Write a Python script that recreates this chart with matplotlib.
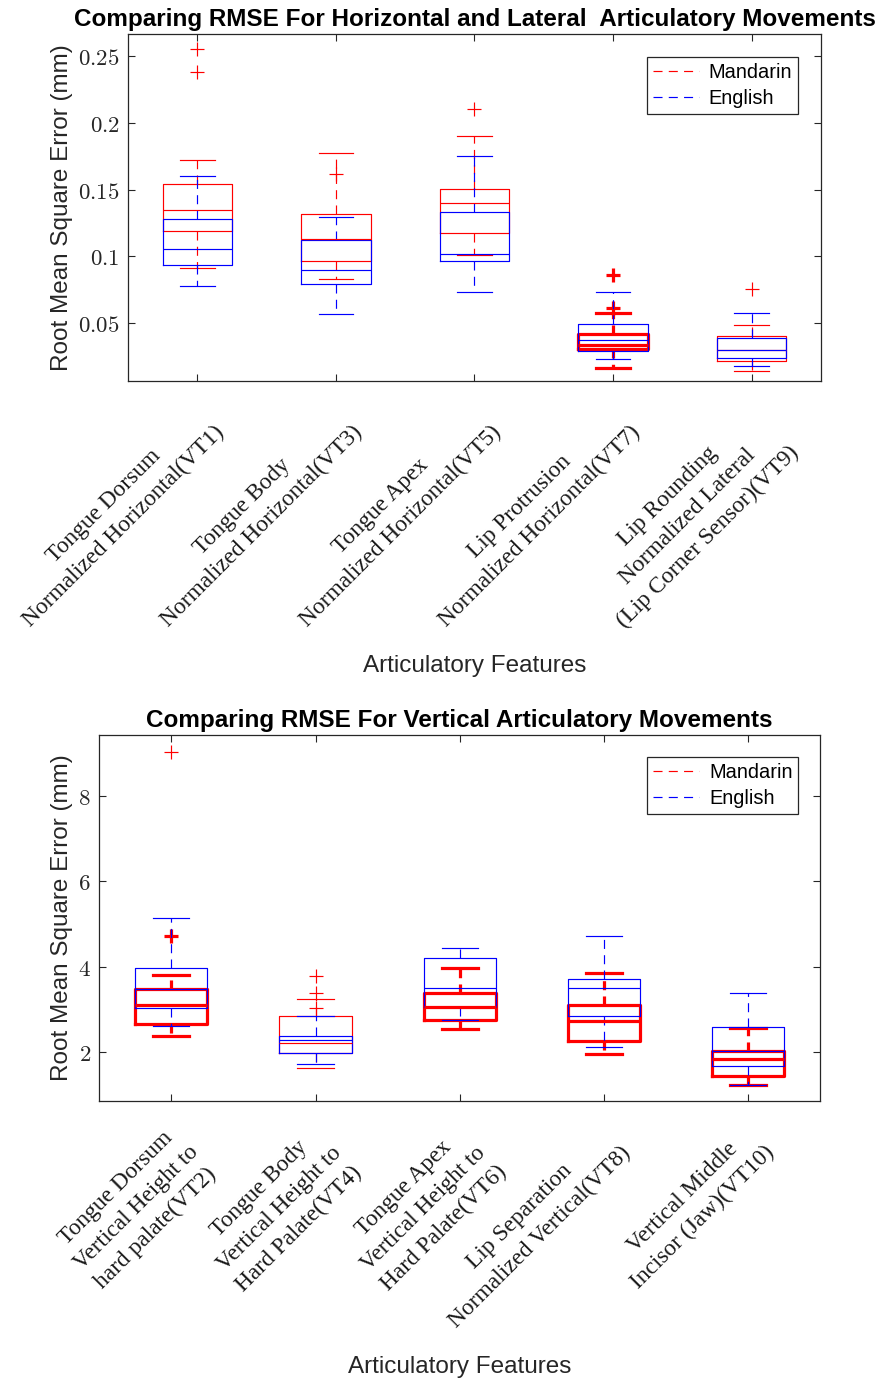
import matplotlib
matplotlib.use("Agg")
import matplotlib.pyplot as plt
from matplotlib.lines import Line2D
from matplotlib.ticker import FuncFormatter
from matplotlib.transforms import ScaledTranslation

plt.rcParams['lines.scale_dashes'] = False
plt.rcParams['mathtext.fontset'] = 'cm'

# ---------------- horizontal / lateral movements ----------------
categories_h = [
    "Tongue Dorsum\nNormalized Horizontal(VT1)",
    "Tongue Body\nNormalized Horizontal(VT3)",
    "Tongue Apex\nNormalized Horizontal(VT5)",
    "Lip Protrusion\nNormalized Horizontal(VT7)",
    "Lip Rounding\nNormalized Lateral\n(Lip Corner Sensor)(VT9)",
]
mand_h_q1 = [0.1193, 0.0966, 0.1176, 0.0308, 0.0218]
mand_h_med = [0.1350, 0.1128, 0.1400, 0.0338, 0.0298]
mand_h_q3 = [0.1540, 0.1318, 0.1505, 0.0418, 0.0405]
mand_h_lo = [0.0912, 0.0834, 0.1014, 0.0168, 0.0143]
mand_h_hi = [0.1720, 0.1777, 0.1901, 0.0580, 0.0490]
mand_h_out = [[0.2550, 0.2378], [0.1620], [0.2101], [0.0862, 0.0612], [0.0757]]

eng_h_q1 = [0.0936, 0.0792, 0.0969, 0.0296, 0.0238]
eng_h_med = [0.1056, 0.0902, 0.1017, 0.0375, 0.0302]
eng_h_q3 = [0.1280, 0.1120, 0.1331, 0.0495, 0.0388]
eng_h_lo = [0.0777, 0.0568, 0.0732, 0.0233, 0.0183]
eng_h_hi = [0.1605, 0.1293, 0.1750, 0.0737, 0.0580]
eng_h_out = [[], [], [], [], []]

# ---------------- vertical movements ----------------
categories_v = [
    "Tongue Dorsum\nVertical Height to\nhard palate(VT2)",
    "Tongue Body\nVertical Height to\nHard Palate(VT4)",
    "Tongue Apex\nVertical Height to\nHard Palate(VT6)",
    "Lip Separation\nNormalized Vertical(VT8)",
    "Vertical Middle\nIncisor (Jaw)(VT10)",
]
mand_v_q1 = [2.655, 1.99, 2.76, 2.27, 1.45]
mand_v_med = [3.11, 2.21, 3.07, 2.72, 1.84]
mand_v_q3 = [3.47, 2.86, 3.38, 3.11, 2.02]
mand_v_lo = [2.37, 1.63, 2.55, 1.95, 1.23]
mand_v_hi = [3.81, 3.25, 3.97, 3.86, 2.57]
mand_v_out = [[9.02, 4.73], [3.78, 3.38, 3.04], [], [], []]

eng_v_q1 = [3.03, 1.99, 3.07, 2.85, 1.68]
eng_v_med = [3.47, 2.29, 3.51, 3.50, 2.02]
eng_v_q3 = [3.98, 2.39, 4.21, 3.71, 2.60]
eng_v_lo = [2.61, 1.72, 2.75, 2.12, 1.23]
eng_v_hi = [5.13, 2.86, 4.45, 4.72, 3.38]
eng_v_out = [[], [], [], [], []]

# line emphasis per box (heavy strokes) and per outlier
mand_h_heavy = [False, False, False, True, False]
mand_h_out_heavy = [[False, False], [False], [False], [True, True], [False]]
mand_v_heavy = [True, False, True, True, True]
mand_v_out_heavy = [[False, True], [False, False, False], [], [], []]
eng_heavy = [False] * 5

RED = (1.0, 0.0, 0.0)
BLUE = (0.0, 0.0, 1.0)
AXCOL = "#262626"
THIN = 0.85
THICK = 2.3
DASH = (0, (6.5, 4.5))
SANS = "Liberation Sans"


def draw_group(ax, q1, med, q3, lo, hi, out, heavy, out_heavy, color):
    for i in range(len(q1)):
        lw = THICK if heavy[i] else THIN
        st = dict(q1=q1[i], med=med[i], q3=q3[i], whislo=lo[i], whishi=hi[i], fliers=[])
        ax.bxp([st], positions=[i + 1], widths=0.5, capwidths=0.25,
               showfliers=False, manage_ticks=False,
               boxprops=dict(color=color, linewidth=lw),
               whiskerprops=dict(color=color, linewidth=lw, linestyle=DASH),
               capprops=dict(color=color, linewidth=lw),
               medianprops=dict(color=color, linewidth=lw))
        flags = out_heavy[i] if out_heavy else [False] * len(out[i])
        for v, h in zip(out[i], flags):
            ax.plot([i + 1], [v], linestyle="none", marker="+", markersize=10,
                    markeredgewidth=THICK if h else THIN, color=color)


def style_axes(fig, ax, cats, yticks, ylim, title, leg_anchor, ylab_x, xlab_y,
               title_pad):
    ax.set_xlim(0.5, 5.5)
    ax.set_ylim(*ylim)
    ax.set_xticks(range(1, 6))
    ax.set_yticks(yticks)
    ax.yaxis.set_major_formatter(FuncFormatter(lambda v, p: "$%g$" % v))
    ax.tick_params(direction="in", top=True, right=True, length=5, width=0.8,
                   color=AXCOL, labelcolor="#262626")
    ax.tick_params(axis="x", pad=15)
    ax.tick_params(axis="y", labelsize=16.5, pad=6)
    ax.set_xticklabels(cats, rotation=45, ha="right", va="top",
                       rotation_mode="anchor", multialignment="center",
                       family="Liberation Serif", fontsize=16.8, color="#1a1a1a",
                       linespacing=1.45)
    # nudge the slanted category labels a little to the left
    shift = ScaledTranslation(-4 / 100, 0, fig.dpi_scale_trans)
    for lab in ax.get_xticklabels():
        lab.set_transform(lab.get_transform() + shift)
    for s in ax.spines.values():
        s.set_color(AXCOL)
        s.set_linewidth(0.9)
    ax.set_title(title, fontsize=17.5, fontweight="bold", family=SANS,
                 pad=title_pad)
    ax.set_ylabel("Root Mean Square Error (mm)", fontsize=17.5, family=SANS,
                  color="#262626")
    ax.yaxis.set_label_coords(ylab_x, 0.5)
    ax.set_xlabel("Articulatory Features", fontsize=17.5, family=SANS,
                  color="#262626")
    ax.xaxis.set_label_coords(0.5, xlab_y)
    handles = [Line2D([], [], color=RED, linewidth=THIN, linestyle=DASH),
               Line2D([], [], color=BLUE, linewidth=THIN, linestyle=DASH)]
    leg = ax.legend(handles, ["Mandarin", "English"], loc="upper right",
                    bbox_to_anchor=leg_anchor, borderaxespad=0, fancybox=False,
                    framealpha=1, edgecolor="#262626", handlelength=2.3,
                    prop=dict(family=SANS, size=14.4),
                    borderpad=0.3, labelspacing=0.35, handletextpad=0.5)
    leg.get_frame().set_linewidth(0.9)


fig = plt.figure(figsize=(8.81, 13.82), dpi=100)

ax1 = fig.add_axes([128 / 881, 1 - 381 / 1382, 693 / 881, 347 / 1382])
draw_group(ax1, mand_h_q1, mand_h_med, mand_h_q3, mand_h_lo, mand_h_hi,
           mand_h_out, mand_h_heavy, mand_h_out_heavy, RED)
draw_group(ax1, eng_h_q1, eng_h_med, eng_h_q3, eng_h_lo, eng_h_hi,
           eng_h_out, eng_heavy, None, BLUE)
style_axes(fig, ax1, categories_h, [0.05, 0.1, 0.15, 0.2, 0.25], (0.0068, 0.2665),
           "Comparing RMSE For Horizontal and Lateral  Articulatory Movements",
           (0.967, 0.935), -0.0794, -0.790, 5.5)

ax2 = fig.add_axes([99.3 / 881, 1 - 1101 / 1382, 720.7 / 881, 366 / 1382])
draw_group(ax2, mand_v_q1, mand_v_med, mand_v_q3, mand_v_lo, mand_v_hi,
           mand_v_out, mand_v_heavy, mand_v_out_heavy, RED)
draw_group(ax2, eng_v_q1, eng_v_med, eng_v_q3, eng_v_lo, eng_v_hi,
           eng_v_out, eng_heavy, None, BLUE)
style_axes(fig, ax2, categories_v, [2, 4, 6, 8], (0.861, 9.419),
           "Comparing RMSE For Vertical Articulatory Movements",
           (0.970, 0.9395), -0.0365, -0.697, 6)

fig.savefig("out.png", dpi=100)
